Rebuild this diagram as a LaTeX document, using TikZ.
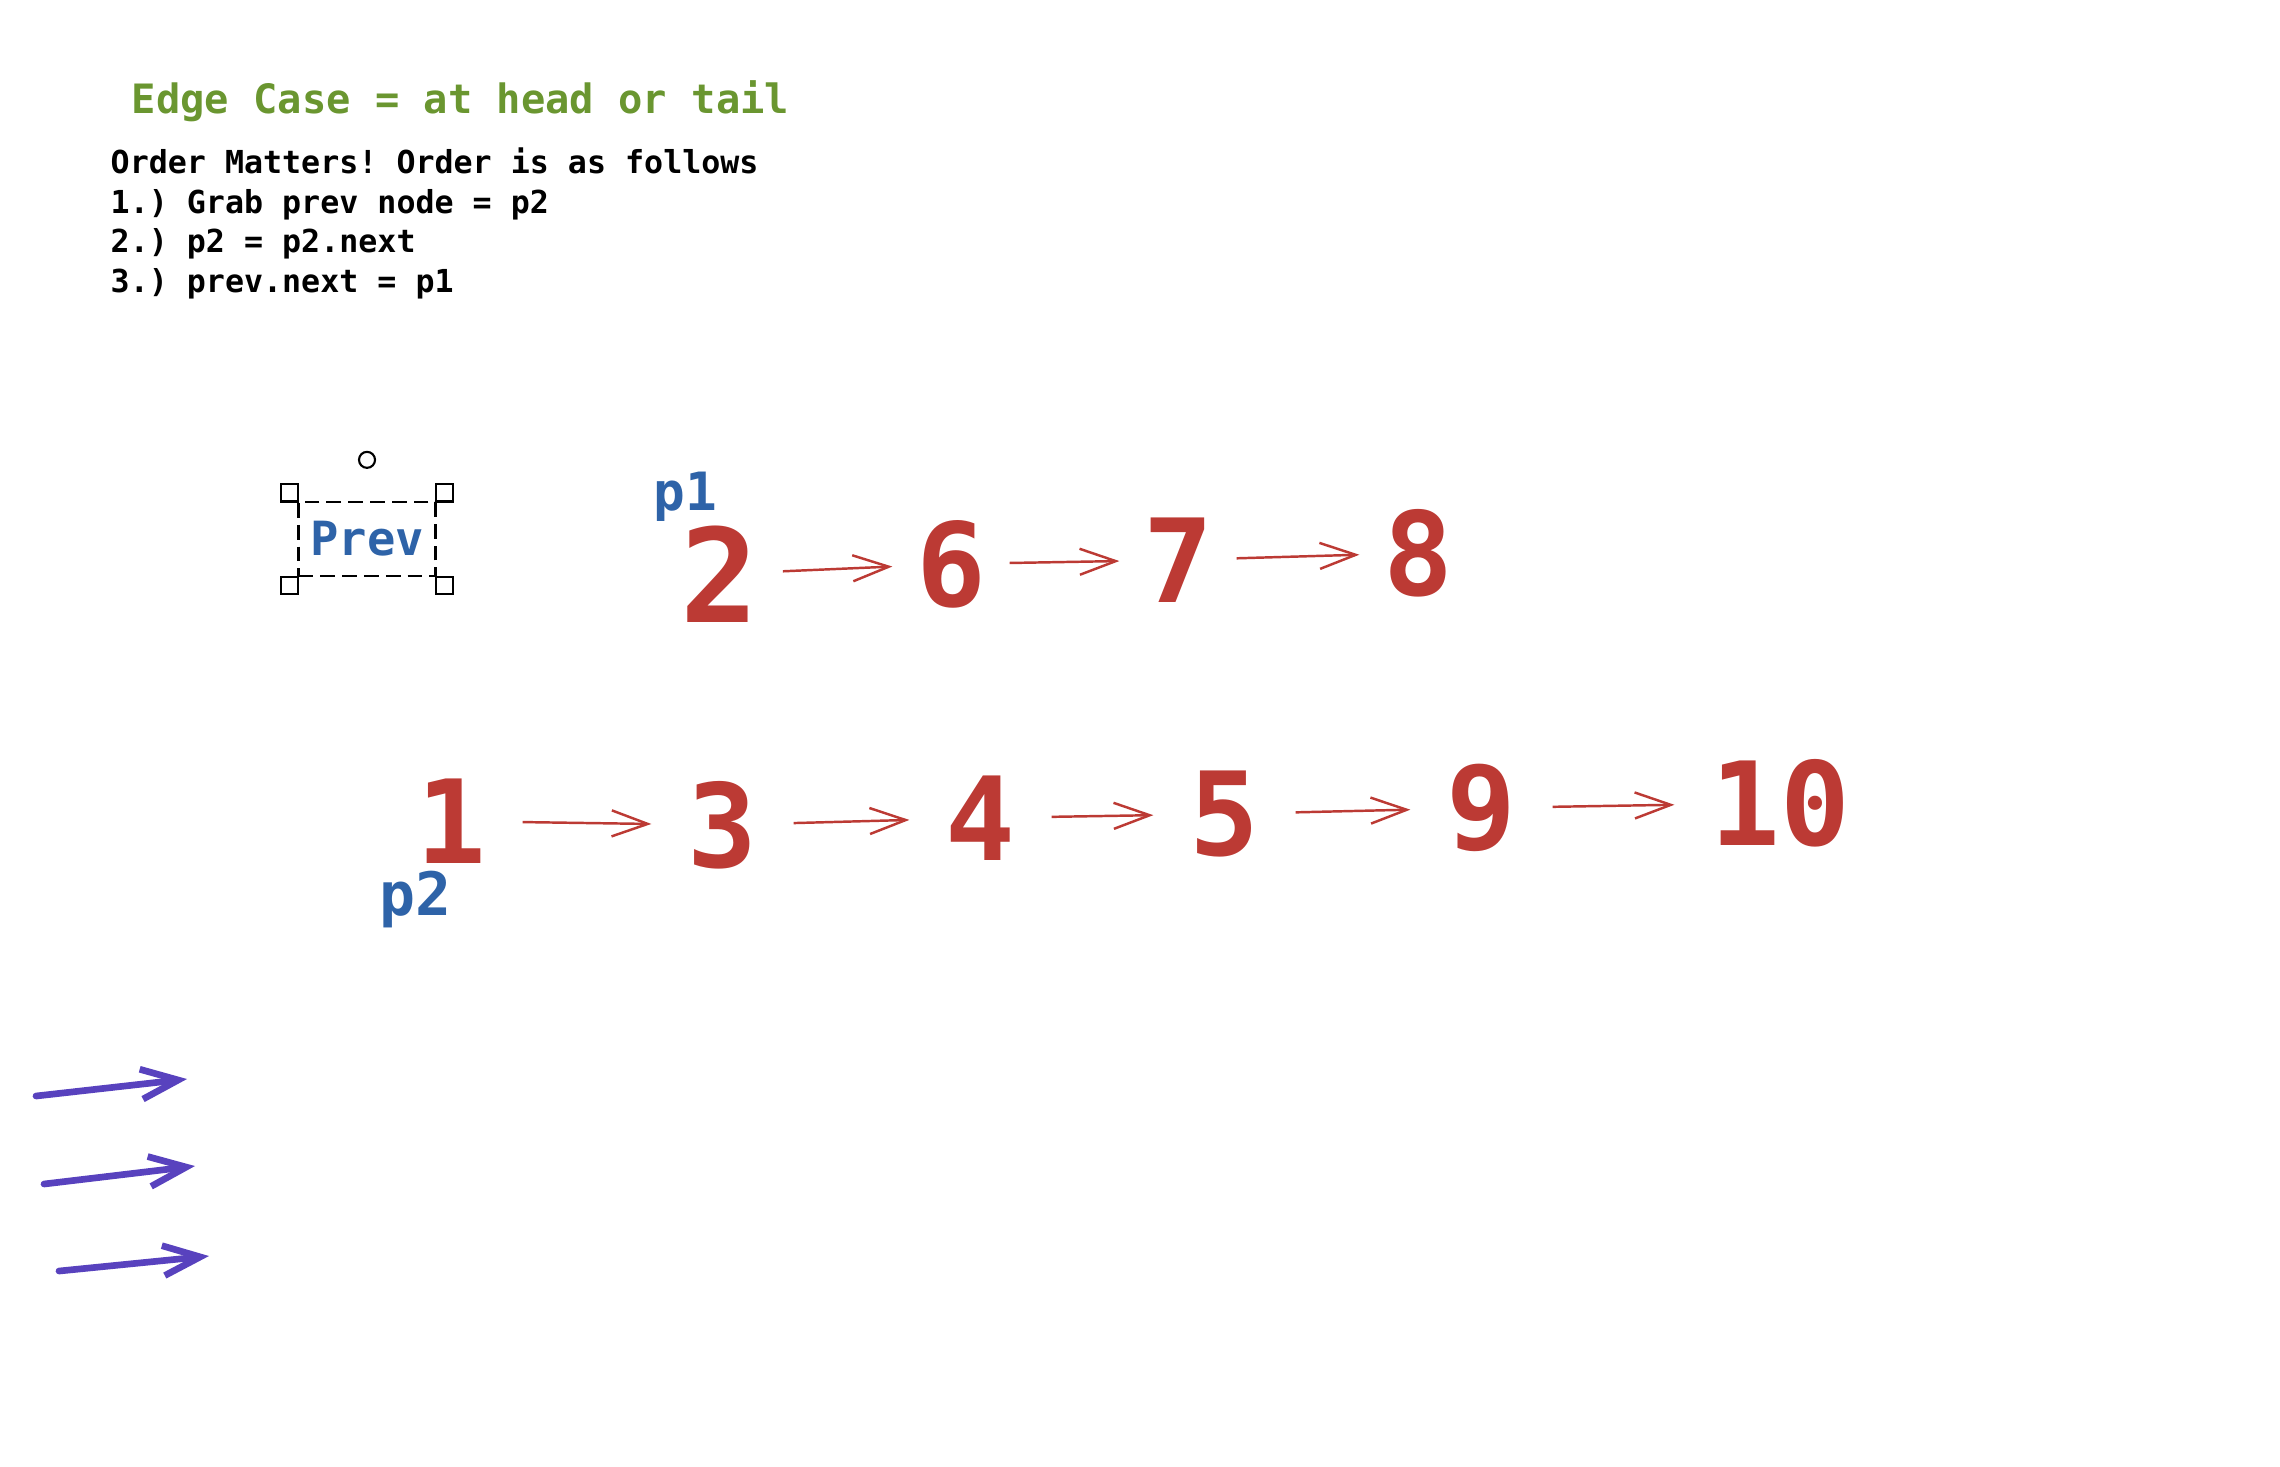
\documentclass[tikz,border=0pt]{standalone}
\usepackage{fontspec}
\setmonofont{DejaVu Sans Mono}
\usepackage{xcolor}
\usetikzlibrary{arrows.meta,positioning}

\definecolor{noteGreen}{RGB}{106,150,48}
\definecolor{ptrBlue}{RGB}{46,99,168}
\definecolor{numRed}{RGB}{188,58,52}
\definecolor{penPurple}{RGB}{88,66,190}

\begin{document}
\begin{tikzpicture}[
    x=0.01cm, y=-0.01cm,
    num/.style={text=numRed, inner sep=0pt, font=\ttfamily\bfseries\fontsize{33}{33}\selectfont},
    ptr/.style={text=ptrBlue, inner sep=0pt, anchor=base west},
    link/.style={-{Straight Barb[length=3.6mm,width=2.6mm]}, draw=numRed, line width=0.7pt,
                 shorten <=2.3mm, shorten >=2.3mm},
    widelink/.style={link, shorten <=3.6mm, shorten >=3.5mm},
    pen/.style={-{Straight Barb[length=3.7mm,width=3mm]}, draw=penPurple, line width=1.9pt, line cap=round},
    grip/.style={draw, fill=white, minimum size=0.17cm, inner sep=0pt, line width=0.6pt}
]
\useasboundingbox (0,0) rectangle (2280,1466);

\node[anchor=base west, inner sep=0pt, text=noteGreen, font=\ttfamily\bfseries\fontsize{11.5}{14}\selectfont] (title) at (131,113) {Edge Case = at head or tail};
\node[anchor=base west, inner sep=0pt, align=left, font=\ttfamily\bfseries\fontsize{9}{11.2}\selectfont] (steps) at (110,292)
    {Order Matters! Order is as follows\\1.) Grab prev node = p2\\2.) p2 = p2.next\\3.) prev.next = p1};

\node[draw, dash pattern=on 4.2pt off 2pt, line width=0.6pt, minimum width=1.3cm, minimum height=0.74cm,
      text=ptrBlue, font=\ttfamily\bfseries\fontsize{13.4}{14}\selectfont] (prev) at (367,539) {Prev};
\node[grip] (g1) at ([shift={(-8,-8)}]prev.north west) {};
\node[grip] (g2) at ([shift={(8,-8)}]prev.north east) {};
\node[grip] (g3) at ([shift={(-8,8)}]prev.south west) {};
\node[grip] (g4) at ([shift={(8,8)}]prev.south east) {};
\node[draw, circle, minimum size=0.16cm, inner sep=0pt, line width=0.6pt, above=3.2mm of prev] (rot) {};

\node[num, font=\ttfamily\bfseries\fontsize{37}{37}\selectfont] (n2) at (720,574) {2};
\node[num] (n6) at (951,564) {6};
\node[num] (n7) at (1178,560) {7};
\node[num] (n8) at (1418,553) {8};
\node[ptr, font=\ttfamily\bfseries\fontsize{15}{15}\selectfont] (p1) at (653,510) {p1};

\node[num] (n1) at (451,821) {1};
\node[num] (n3) at (722,825) {3};
\node[num] (n4) at (980,818) {4};
\node[num] (n5) at (1224,814) {5};
\node[num] (n9) at (1481,808) {9};
\node[num] (n10) at (1780,803) {10};
\node[ptr, font=\ttfamily\bfseries\fontsize{17}{17}\selectfont] (p2) at (379,915) {p2};

\draw[link] (n2) -- (n6);
\draw[link] (n6) -- (n7);
\draw[link] (n7) -- (n8);

\draw[widelink] (n1) -- (n3);
\draw[widelink] (n3) -- (n4);
\draw[widelink] (n4) -- (n5);
\draw[widelink] (n5) -- (n9);
\draw[widelink] (n9) -- (n10);

\coordinate (u1) at (36,1096);
\coordinate (v1) at (187,1079);
\coordinate (u2) at (44,1184);
\coordinate (v2) at (195,1166);
\coordinate (u3) at (59,1271);
\coordinate (v3) at (209,1256);
\draw[pen] (u1) -- (v1);
\draw[pen] (u2) -- (v2);
\draw[pen] (u3) -- (v3);
\end{tikzpicture}
\end{document}
